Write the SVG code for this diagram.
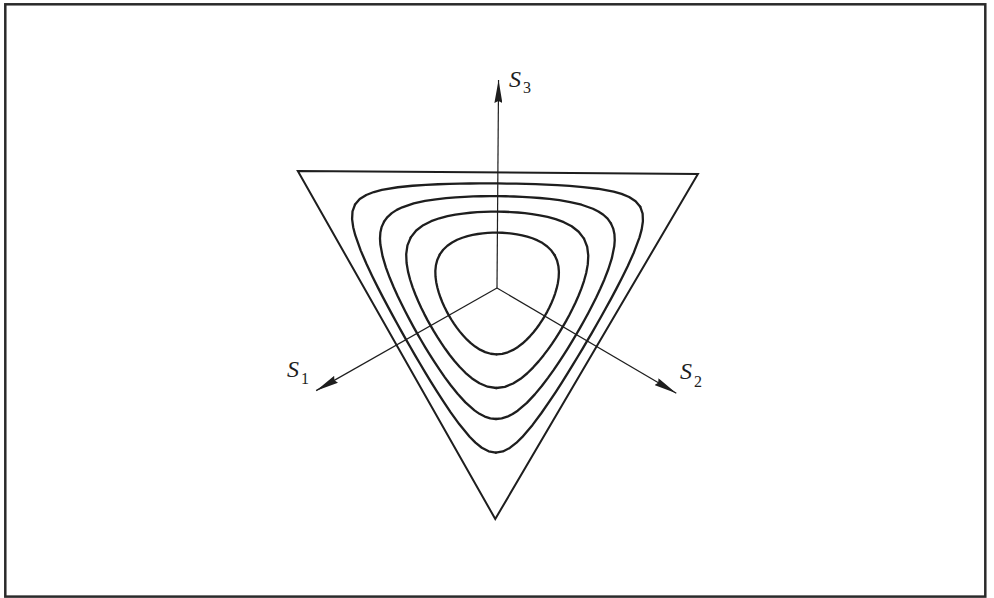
<svg xmlns="http://www.w3.org/2000/svg" width="994" height="598" viewBox="0 0 994 598">
<defs>
<style>
.frame{fill:none;stroke:#2a2a2a;stroke-width:2.5}
.tri{fill:none;stroke:#1e1e1e;stroke-width:2}
.contour{fill:none;stroke:#1e1e1e;stroke-width:2.3;stroke-linejoin:round;stroke-linecap:round}
.axis{fill:none;stroke:#1e1e1e;stroke-width:1.2}
.lbl{font-family:"Liberation Serif","Times New Roman",serif;fill:#1e1e1e}
.s{font-size:24px;font-style:italic}
.sub{font-size:16px}
</style>
<marker id="ah" viewBox="0 0 23 8" refX="23" refY="4" markerWidth="23" markerHeight="8" markerUnits="userSpaceOnUse" orient="auto"><path d="M0,0 L23,4 L0,8 L2,4 z" fill="#1e1e1e"/></marker>
<path id="cD" class="contour" d="M-142.61,-82.34 L-137.93,-87.87 -131.43,-92.03 -123.87,-95.05 -115.87,-97.23 -100.01,-100.01 -85.27,-101.62 -71.86,-102.63 -59.65,-103.31 -48.39,-103.77 -37.88,-104.08 -27.95,-104.30 -18.42,-104.44 -9.15,-104.53 0,-104.55 9.15,-104.53 18.42,-104.44 27.95,-104.30 37.88,-104.08 48.39,-103.77 59.65,-103.31 71.86,-102.63 85.27,-101.62 100.01,-100.01 115.87,-97.23 123.87,-95.05 131.43,-92.03 137.93,-87.87 142.61,-82.34"/>
<path id="cC" class="contour" d="M-113.44,-65.50 L-110.08,-70.13 -105.78,-74.07 -100.79,-77.34 -95.34,-80.00 -83.91,-83.91 -72.58,-86.49 -61.79,-88.25 -51.65,-89.46 -42.12,-90.32 -33.10,-90.93 -24.48,-91.36 -16.16,-91.64 -8.03,-91.80 0,-91.85 8.03,-91.80 16.16,-91.64 24.48,-91.36 33.10,-90.93 42.12,-90.32 51.65,-89.46 61.79,-88.25 72.58,-86.49 83.91,-83.91 95.34,-80.00 100.79,-77.34 105.78,-74.07 110.08,-70.13 113.44,-65.50"/>
<path id="cB" class="contour" d="M-86.61,-50.01 L-81.23,-56.88 -74.22,-62.28 -66.33,-66.33 -58.15,-69.30 -50.04,-71.46 -42.18,-73.05 -34.60,-74.21 -27.32,-75.05 -20.27,-75.65 -13.41,-76.05 -6.67,-76.29 0,-76.36 6.67,-76.29 13.41,-76.05 20.27,-75.65 27.32,-75.05 34.60,-74.21 42.18,-73.05 50.04,-71.46 58.15,-69.30 66.33,-66.33 74.22,-62.28 81.23,-56.88 86.61,-50.01"/>
<path id="cA" class="contour" d="M-57.44,-33.17 L-54.09,-37.87 -49.94,-41.90 -45.23,-45.23 -40.19,-47.90 -35.02,-50.01 -29.82,-51.65 -24.68,-52.92 -19.60,-53.86 -14.62,-54.56 -9.70,-55.02 -4.84,-55.30 0,-55.38 4.84,-55.30 9.70,-55.02 14.62,-54.56 19.60,-53.86 24.68,-52.92 29.82,-51.65 35.02,-50.01 40.19,-47.90 45.23,-45.23 49.94,-41.90 54.09,-37.87 57.44,-33.17"/>
</defs>
<rect id="frame" class="frame" x="5.3" y="4.3" width="980" height="592.3"/>
<g id="figure" transform="translate(497 288) rotate(0.43)">
<polygon id="triangle" class="tri" points="-200.05,-115.5 200.05,-115.5 0,231"/>
<g id="contours">
<g id="contour-1"><use href="#cA"/><use href="#cA" transform="rotate(120)"/><use href="#cA" transform="rotate(240)"/></g>
<g id="contour-2"><use href="#cB"/><use href="#cB" transform="rotate(120)"/><use href="#cB" transform="rotate(240)"/></g>
<g id="contour-3"><use href="#cC"/><use href="#cC" transform="rotate(120)"/><use href="#cC" transform="rotate(240)"/></g>
<g id="contour-4"><use href="#cD"/><use href="#cD" transform="rotate(120)"/><use href="#cD" transform="rotate(240)"/></g>
</g>
<g id="axes">
<line class="axis" x1="0" y1="0" x2="0" y2="-208" marker-end="url(#ah)"/>
<line class="axis" x1="0" y1="0" x2="-180.1" y2="104" marker-end="url(#ah)"/>
<line class="axis" x1="0" y1="0" x2="180.1" y2="104" marker-end="url(#ah)"/>
</g>
</g>
<g id="labels" class="lbl">
<text id="label-s3"><tspan class="s" x="509" y="87">S</tspan><tspan class="sub" x="523" y="93">3</tspan></text>
<text id="label-s1"><tspan class="s" x="287" y="377">S</tspan><tspan class="sub" x="301" y="384">1</tspan></text>
<text id="label-s2"><tspan class="s" x="680" y="379">S</tspan><tspan class="sub" x="694" y="387">2</tspan></text>
</g>
</svg>
